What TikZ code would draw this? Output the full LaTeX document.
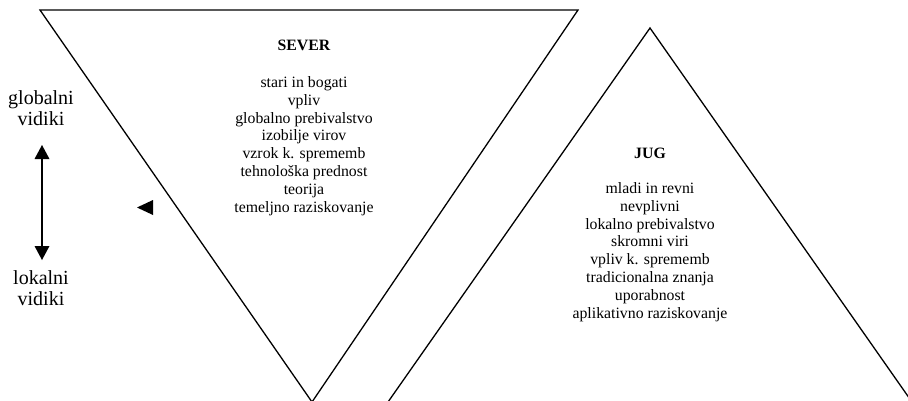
\documentclass[tikz,border=0pt]{standalone}
\usepackage{fontspec}
\setmainfont{Liberation Serif}
\begin{document}
\begin{tikzpicture}[x=1pt,y=-1pt,
  edge/.style={line width=1.3pt, line join=miter},
  listtext/.style={align=center, font=\fontsize{15.8}{17.8}\selectfont, inner sep=0pt},
  titletext/.style={font=\fontsize{15.8}{17.8}\selectfont\bfseries, inner sep=0pt},
  sidetext/.style={align=center, font=\fontsize{20}{21}\selectfont, inner sep=0pt}]
\useasboundingbox (0,0) rectangle (908,400);
% north (inverted) triangle
\coordinate (nA) at (40,10);
\coordinate (nB) at (578,10);
\coordinate (nC) at (312,402);
\draw[edge] (nA) -- (nB) -- (nC) -- cycle;
% south triangle
\coordinate (sA) at (650,28);
\coordinate (sL) at (388,402);
\coordinate (sR) at (912,402);
\draw[edge] (sL) -- (sA) -- (sR);
% texts
\node[titletext] (sever) at (304,45) {SEVER};
\node[listtext] (severlist) at (304,146) {stari in bogati\\vpliv\\globalno prebivalstvo\\izobilje virov\\vzrok k. sprememb\\tehnološka prednost\\teorija\\temeljno raziskovanje};
\node[titletext] (jug) at (650,153) {JUG};
\node[listtext] (juglist) at (650,252) {mladi in revni\\nevplivni\\lokalno prebivalstvo\\skromni viri\\vpliv k. sprememb\\tradicionalna znanja\\uporabnost\\aplikativno raziskovanje};
% side labels
\node[sidetext] (glob) at (41,108) {globalni\\vidiki};
\node[sidetext] (lok) at (41,288) {lokalni\\vidiki};
\coordinate (arTop) at (42,145);
\coordinate (arBot) at (42,260);
\draw[line width=1.3pt] (42,158) -- (42,247);
\fill (arTop) -- (34.5,159) -- (49.5,159) -- cycle;
\fill (arBot) -- (34.5,246) -- (49.5,246) -- cycle;
% small pointer
\coordinate (ptip) at (137,207.5);
\fill (ptip) -- (153,200) -- (153,215) -- cycle;
\end{tikzpicture}
\end{document}
